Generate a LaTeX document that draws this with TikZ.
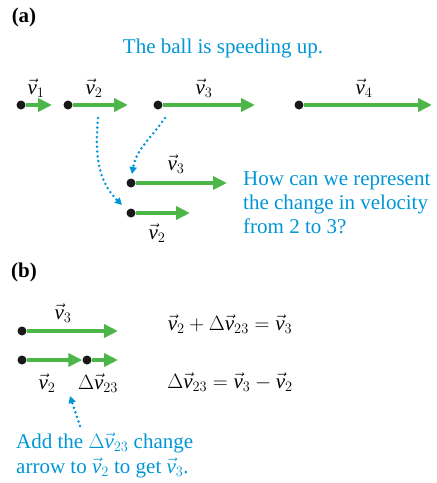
\documentclass[tikz,border=0pt]{standalone}
\usepackage{fontspec}
\setmainfont{Liberation Serif}
\usetikzlibrary{positioning,arrows.meta}
\definecolor{cvel}{RGB}{76,183,72}
\definecolor{cnote}{RGB}{0,150,214}
\newcommand{\vel}[1]{\vec{\mathit{v}}_{#1}}
\newcommand{\dvel}{\Delta\vec{\mathit{v}}_{23}}

\begin{document}
\begin{tikzpicture}[x=1pt,y=-1pt,font=\fontsize{21}{24}\selectfont,
  dot/.style={circle,fill=black!90,inner sep=0pt,minimum size=9pt},
  vel/.style={-{Triangle[length=14pt,width=13pt]},cvel,line width=4.5pt},
  hint/.style={-{Triangle[length=7pt,width=7pt]},cnote,line width=2.8pt,line cap=round,dash pattern=on 0pt off 4.8pt},
  note/.style={text=cnote,align=left,inner sep=0pt},
  lbl/.style={inner sep=0pt},
]
\useasboundingbox (0,0) rectangle (437,483);
% (a) row of velocities
\node[lbl,font=\fontsize{21}{24}\selectfont\bfseries] (parta) at (24,17) {(a)};
\node[note] (speed) at (223,48) {The ball is speeding up.};
\node[dot] (d1) at (21,105) {};
\node[dot] (d2) at (68,105) {};
\node[dot] (d3) at (158,105) {};
\node[dot] (d4) at (299,105) {};
\coordinate (e1) at (52,105);
\coordinate (e2) at (128,105);
\coordinate (e3) at (255,105);
\coordinate (e4) at (432,105);
\draw[vel] (d1) -- (e1);
\draw[vel] (d2) -- (e2);
\draw[vel] (d3) -- (e3);
\draw[vel] (d4) -- (e4);
\node[lbl] (l1) at (36,88) {$\vel{1}$};
\node[lbl] (l2) at (94,88) {$\vel{2}$};
\node[lbl] (l3) at (204,88) {$\vel{3}$};
\node[lbl] (l4) at (364,88) {$\vel{4}$};
% copies moved down
\node[dot] (c3) at (131,183) {};
\node[dot] (c2) at (131,213) {};
\coordinate (f3) at (227,183);
\coordinate (f2) at (190,213);
\draw[vel] (c3) -- (f3);
\draw[vel] (c2) -- (f2);
\node[lbl] (m3) at (176,164) {$\vel{3}$};
\node[lbl] (m2) at (157,233) {$\vel{2}$};
\coordinate (s2) at (98,118);
\coordinate (t2) at (122,205);
\coordinate (s3) at (165,118);
\coordinate (t3) at (132,174);
\draw[hint] (s2) to[out=-95,in=135] (t2);
\draw[hint] (s3) to[out=235,in=80] (t3);
\node[note,anchor=base west] (quest) at (243,233) {How can we represent\\the change in velocity\\from 2 to 3?};
% (b) adding the change
\node[lbl,font=\fontsize{21}{24}\selectfont\bfseries] (partb) at (24,272) {(b)};
\node[dot] (b3) at (22,331) {};
\node[dot] (b2) at (22,360) {};
\node[dot] (bd) at (87,360) {};
\coordinate (g3) at (118,331);
\coordinate (gd) at (118,360);
\draw[vel] (b3) -- (g3);
\draw[vel] (b2) -- (bd.west);
\draw[vel] (bd) -- (gd);
\node[lbl] (n3) at (63,313) {$\vel{3}$};
\node[lbl] (n2) at (47,383) {$\vel{2}$};
\node[lbl] (nd) at (98,383) {$\dvel$};
\node[lbl] (eqsum) at (230,324) {$\vel{2}+\dvel=\vel{3}$};
\node[lbl] (eqdiff) at (230,382) {$\dvel=\vel{3}-\vel{2}$};
\coordinate (hs) at (80,426);
\coordinate (ht) at (70,396);
\draw[hint] (hs) -- (ht);
\node[note,anchor=base west,font=\fontsize{21}{25}\selectfont] (addnote) at (16,473) {Add the $\dvel$ change\\arrow to $\vel{2}$ to get $\vel{3}$.};
\end{tikzpicture}
\end{document}
